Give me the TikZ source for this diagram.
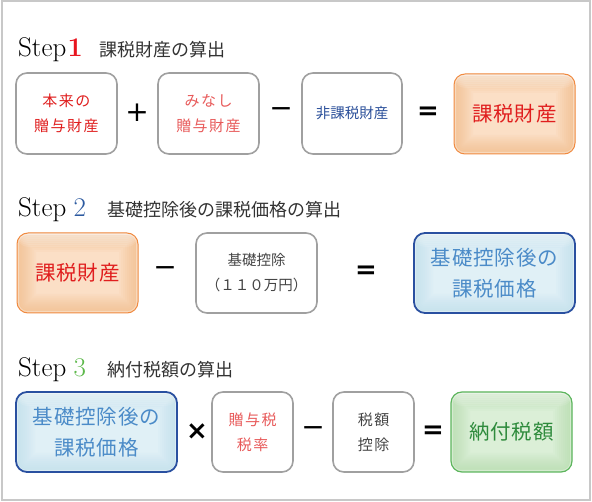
\documentclass[tikz,border=0pt]{standalone}
\usepackage{fontspec}
\newfontfamily\jp{Noto Sans CJK JP}
\newfontfamily\jpls[LetterSpace=10]{Noto Sans CJK JP}
\newfontfamily\jplg[LetterSpace=4]{Noto Sans CJK JP}
\newfontfamily\opf{DejaVu Sans}
\definecolor{framegray}{HTML}{C8C8C8}
\definecolor{boxgray}{HTML}{A0A0A0}
\definecolor{titlegray}{HTML}{333333}
\definecolor{stepred}{HTML}{E8141E}
\definecolor{stepblue}{HTML}{2C5AA0}
\definecolor{stepgreen}{HTML}{5CB84A}
\definecolor{txtred}{HTML}{E01E1E}
\definecolor{txtpink}{HTML}{E85A5A}
\definecolor{txtnavy}{HTML}{2A4F9A}
\definecolor{txtgray}{HTML}{444444}
\definecolor{txtblue}{HTML}{4B8BC8}
\definecolor{txtgreen}{HTML}{2E8B3C}
\definecolor{orgline}{HTML}{F08A40}
\definecolor{orgglow}{HTML}{F4AE70}
\definecolor{blueline}{HTML}{2A50A0}
\definecolor{blueglow}{HTML}{B2DAE8}
\definecolor{grnline}{HTML}{5DB55D}
\definecolor{grnglow}{HTML}{A6D69C}
\begin{document}
\begin{tikzpicture}[x=1pt,y=-1pt,
  box/.style={draw=boxgray, line width=1.6pt, rounded corners=11pt, fill=white,
    inner sep=0pt, align=center, minimum height=81pt},
  glow/.style={path picture={
    \fill[#1!40] (path picture bounding box.south west) rectangle (path picture bounding box.north east);
    \foreach \w in {6,10,...,38}{
      \draw[#1, opacity=0.065, line width=\w pt, rounded corners=10pt]
        (path picture bounding box.south west) rectangle (path picture bounding box.north east);
    }
    \foreach \h in {2,4,...,14}{
      \fill[white, opacity=0.1]
        (path picture bounding box.north west) rectangle ([yshift=-\h pt]path picture bounding box.north east);
    }
    \draw[white, opacity=0.35, line width=4pt, rounded corners=10pt]
        (path picture bounding box.south west) rectangle (path picture bounding box.north east);
  }},
  small/.style={font=\jp\fontsize{14.5}{25}\selectfont},
  smallsp/.style={font=\jpls\fontsize{15}{25}\selectfont},
  large/.style={font=\jplg\fontsize{20.5}{31}\selectfont},
  op/.style={font=\opf\fontsize{28}{28}\selectfont, inner sep=0pt},
  opb/.style={font=\opf\bfseries\fontsize{26}{26}\selectfont, inner sep=0pt},
  stepw/.style={anchor=base west, inner sep=0pt, font=\fontsize{27}{27}\selectfont},
  jtitle/.style={anchor=west, inner sep=0pt, text=titlegray, font=\jp\fontsize{18}{18}\selectfont}
]
\useasboundingbox (0,0) rectangle (592,502);
\draw[framegray, line width=2pt] (1.5,1.5) rectangle (590,500);

% ---- Step 1
\node[stepw] (s1) at (18,57) {Step};
\node[stepw, text=stepred, font=\fontsize{27}{27}\selectfont\bfseries] (n1) at ([xshift=1pt]s1.base east) {1};
\node[jtitle] (t1) at (99,50) {課税財産の算出};

\node[box, smallsp, text=txtred, minimum width=101pt] (a) at (66.5,113.5) {本来の\\贈与財産};
\node[op] (p1) at (137,113) {+};
\node[box, smallsp, text=txtpink, minimum width=101pt] (b) at (208.5,113.5) {みなし\\贈与財産};
\node[op] (m1) at (281,113) {−};
\node[box, small, text=txtnavy, minimum width=100pt] (c) at (352,113.5) {非課税財産};
\node[opb] (e1) at (428,113) {=};
\node[box, draw=orgline, line width=1pt, glow=orgglow, large, text=txtred,
  minimum width=121pt, minimum height=80pt] (d) at (514.5,114) {課税財産};

% ---- Step 2
\node[stepw] (s2) at (18,217) {Step};
\node[stepw, text=stepblue] (n2) at ([xshift=7pt]s2.base east) {2};
\node[jtitle] (t2) at (107,210) {基礎控除後の課税価格の算出};

\node[box, draw=orgline, line width=1pt, glow=orgglow, large, text=txtred,
  minimum width=121pt, minimum height=80pt] (e) at (77.5,273) {課税財産};
\node[op] (m2) at (165,272) {−};
\node[box, small, text=txtgray, minimum width=121pt, minimum height=80pt] (f) at (256.5,273) {基礎控除\\（１１０万円）};
\node[opb] (e2) at (366,272) {=};
\node[box, draw=blueline, line width=1.8pt, glow=blueglow, large, text=txtblue,
  minimum width=161pt, minimum height=80pt] (g) at (494.5,273) {基礎控除後の\\課税価格};

% ---- Step 3
\node[stepw] (s3) at (18,377) {Step};
\node[stepw, text=stepgreen] (n3) at ([xshift=7pt]s3.base east) {3};
\node[jtitle] (t3) at (107,370) {納付税額の算出};

\node[box, draw=blueline, line width=1.8pt, glow=blueglow, large, text=txtblue,
  minimum width=161pt, minimum height=80pt] (h) at (96.5,432) {基礎控除後の\\課税価格};
\node[opb] (x3) at (197,432) {×};
\node[box, smallsp, text=txtpink, minimum width=81pt, minimum height=80pt] (i) at (252.5,432) {贈与税\\税率};
\node[op] (m3) at (313,432) {−};
\node[box, smallsp, text=txtgray, minimum width=81pt, minimum height=80pt] (j) at (373.5,432) {税額\\控除};
\node[opb] (e3) at (433,432) {=};
\node[box, draw=grnline, line width=1.2pt, glow=grnglow, large, text=txtgreen,
  minimum width=121pt, minimum height=80pt] (k) at (511.5,432) {納付税額};
\end{tikzpicture}
\end{document}
